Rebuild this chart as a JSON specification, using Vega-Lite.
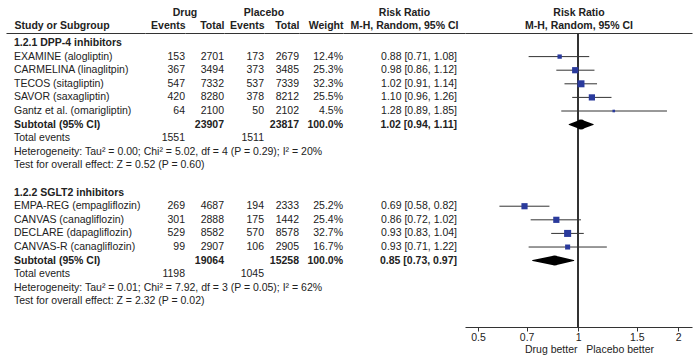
{
  "$schema": "https://vega.github.io/schema/vega-lite/v6.json",
  "padding": {"left": 6, "top": 7, "right": 8, "bottom": 0},
  "autosize": {"type": "pad"},
  "bounds": "flush",
  "spacing": 0,
  "background": "white",
  "config": {
    "view": {"stroke": null},
    "font": "Liberation Sans",
    "text": {"fontSize": 10.5, "color": "#222", "font": "Liberation Sans"},
    "axis": {
      "domainColor": "#333", "domainWidth": 1.2, "labelColor": "#222", "titleColor": "#222",
      "labelFont": "Liberation Sans", "titleFont": "Liberation Sans",
      "labelFontSize": 10.5, "titleFontSize": 10.5, "grid": false
    }
  },
  "datasets": {
    "rows": [
      {"row": 0, "kind": "group", "label": "1.2.1 DPP-4 inhibitors"},
      {"row": 1, "kind": "study", "label": "EXAMINE (alogliptin)", "de": 153, "dt": 2701, "pe": 173, "pt": 2679, "w": 0.124, "rr": 0.88, "lo": 0.71, "hi": 1.08, "ci": "0.88 [0.71, 1.08]"},
      {"row": 2, "kind": "study", "label": "CARMELINA (linaglitpin)", "de": 367, "dt": 3494, "pe": 373, "pt": 3485, "w": 0.253, "rr": 0.98, "lo": 0.86, "hi": 1.12, "ci": "0.98 [0.86, 1.12]"},
      {"row": 3, "kind": "study", "label": "TECOS (sitagliptin)", "de": 547, "dt": 7332, "pe": 537, "pt": 7339, "w": 0.323, "rr": 1.02, "lo": 0.91, "hi": 1.14, "ci": "1.02 [0.91, 1.14]"},
      {"row": 4, "kind": "study", "label": "SAVOR (saxagliptin)", "de": 420, "dt": 8280, "pe": 378, "pt": 8212, "w": 0.255, "rr": 1.10, "lo": 0.96, "hi": 1.26, "ci": "1.10 [0.96, 1.26]"},
      {"row": 5, "kind": "study", "label": "Gantz et al. (omarigliptin)", "de": 64, "dt": 2100, "pe": 50, "pt": 2102, "w": 0.045, "rr": 1.28, "lo": 0.89, "hi": 1.85, "ci": "1.28 [0.89, 1.85]"},
      {"row": 6, "kind": "subtotal", "label": "Subtotal (95% CI)", "dt": 23907, "pt": 23817, "w": 1.0, "rr": 1.02, "lo": 0.94, "hi": 1.11, "ci": "1.02 [0.94, 1.11]"},
      {"row": 7, "kind": "total", "label": "Total events", "de": 1551, "pe": 1511},
      {"row": 8, "kind": "note", "label": "Heterogeneity: Tau² = 0.00; Chi² = 5.02, df = 4 (P = 0.29); I² = 20%"},
      {"row": 9, "kind": "note", "label": "Test for overall effect: Z = 0.52 (P = 0.60)"},
      {"row": 11, "kind": "group", "label": "1.2.2 SGLT2 inhibitors"},
      {"row": 12, "kind": "study", "label": "EMPA-REG (empagliflozin)", "de": 269, "dt": 4687, "pe": 194, "pt": 2333, "w": 0.252, "rr": 0.69, "lo": 0.58, "hi": 0.82, "ci": "0.69 [0.58, 0.82]"},
      {"row": 13, "kind": "study", "label": "CANVAS (canagliflozin)", "de": 301, "dt": 2888, "pe": 175, "pt": 1442, "w": 0.254, "rr": 0.86, "lo": 0.72, "hi": 1.02, "ci": "0.86 [0.72, 1.02]"},
      {"row": 14, "kind": "study", "label": "DECLARE (dapagliflozin)", "de": 529, "dt": 8582, "pe": 570, "pt": 8578, "w": 0.327, "rr": 0.93, "lo": 0.83, "hi": 1.04, "ci": "0.93 [0.83, 1.04]"},
      {"row": 15, "kind": "study", "label": "CANVAS-R (canagliflozin)", "de": 99, "dt": 2907, "pe": 106, "pt": 2905, "w": 0.167, "rr": 0.93, "lo": 0.71, "hi": 1.22, "ci": "0.93 [0.71, 1.22]"},
      {"row": 16, "kind": "subtotal", "label": "Subtotal (95% CI)", "dt": 19064, "pt": 15258, "w": 1.0, "rr": 0.85, "lo": 0.73, "hi": 0.97, "ci": "0.85 [0.73, 0.97]"},
      {"row": 17, "kind": "total", "label": "Total events", "de": 1198, "pe": 1045},
      {"row": 18, "kind": "note", "label": "Heterogeneity: Tau² = 0.01; Chi² = 7.92, df = 3 (P = 0.05); I² = 62%"},
      {"row": 19, "kind": "note", "label": "Test for overall effect: Z = 2.32 (P = 0.02)"}
    ],
    "heads": [
      {"row": -2, "col": "de", "label": "Drug"},
      {"row": -2, "col": "pe", "label": "Placebo"}
    ]
  },
  "hconcat": [
    {
      "width": 139,
      "height": 294,
      "data": {"name": "rows"},
      "mark": {"type": "text", "align": "left", "dx": 8, "fontWeight": {"expr": "datum.kind == 'group' || datum.kind == 'subtotal' ? 'bold' : 'normal'"}},
      "encoding": {
        "x": {"datum": 0, "type": "quantitative", "scale": {"domain": [0, 1], "nice": false, "zero": false},
          "axis": {"orient": "top", "title": null, "ticks": false, "values": [0], "labelExpr": "'Study or Subgroup'", "labelAlign": "left", "labelOffset": 8, "labelFlush": false, "labelFontWeight": "bold", "labelPadding": 3, "labelAngle": 0}},
        "y": {"field": "row", "type": "quantitative", "scale": {"domain": [-0.735, 20.88], "reverse": true, "nice": false, "zero": false}, "axis": null},
        "text": {"field": "label"}
      }
    },
    {
      "width": 40,
      "height": 294,
      "layer": [
        {
          "data": {"name": "rows"},
          "transform": [{"filter": "isValid(datum.de)"}],
          "mark": {"type": "text", "align": "right", "fontWeight": {"expr": "datum.kind == 'subtotal' ? 'bold' : 'normal'"}},
          "encoding": {
            "x": {"datum": 1, "type": "quantitative", "scale": {"domain": [0, 1], "nice": false, "zero": false},
              "axis": {"orient": "top", "title": null, "ticks": false, "values": [1], "labelExpr": "'Events'", "labelAlign": "right", "labelFlush": false, "labelFontWeight": "bold", "labelPadding": 3, "labelAngle": 0}},
            "y": {"field": "row", "type": "quantitative", "scale": {"domain": [-0.735, 20.88], "reverse": true, "nice": false, "zero": false}, "axis": null},
            "text": {"field": "de", "type": "quantitative", "format": "d"}
          }
        },
        {
          "data": {"name": "heads"},
          "transform": [{"filter": "datum.col == 'de'"}],
          "mark": {"type": "text", "align": "center", "fontWeight": "bold", "dy": -3},
          "encoding": {
            "x": {"datum": 1, "type": "quantitative"},
            "y": {"field": "row", "type": "quantitative"},
            "text": {"field": "label"}
          }
        }
      ]
    },
    {
      "width": 39,
      "height": 294,
      "data": {"name": "rows"},
      "transform": [{"filter": "isValid(datum.dt)"}],
      "mark": {"type": "text", "align": "right", "fontWeight": {"expr": "datum.kind == 'subtotal' ? 'bold' : 'normal'"}},
      "encoding": {
        "x": {"datum": 1, "type": "quantitative", "scale": {"domain": [0, 1], "nice": false, "zero": false},
          "axis": {"orient": "top", "title": null, "ticks": false, "values": [1], "labelExpr": "'Total'", "labelAlign": "right", "labelFlush": false, "labelFontWeight": "bold", "labelPadding": 3, "labelAngle": 0}},
        "y": {"field": "row", "type": "quantitative", "scale": {"domain": [-0.735, 20.88], "reverse": true, "nice": false, "zero": false}, "axis": null},
        "text": {"field": "dt", "type": "quantitative", "format": "d"}
      }
    },
    {
      "width": 40,
      "height": 294,
      "layer": [
        {
          "data": {"name": "rows"},
          "transform": [{"filter": "isValid(datum.pe)"}],
          "mark": {"type": "text", "align": "right", "fontWeight": {"expr": "datum.kind == 'subtotal' ? 'bold' : 'normal'"}},
          "encoding": {
            "x": {"datum": 1, "type": "quantitative", "scale": {"domain": [0, 1], "nice": false, "zero": false},
              "axis": {"orient": "top", "title": null, "ticks": false, "values": [1], "labelExpr": "'Events'", "labelAlign": "right", "labelFlush": false, "labelFontWeight": "bold", "labelPadding": 3, "labelAngle": 0}},
            "y": {"field": "row", "type": "quantitative", "scale": {"domain": [-0.735, 20.88], "reverse": true, "nice": false, "zero": false}, "axis": null},
            "text": {"field": "pe", "type": "quantitative", "format": "d"}
          }
        },
        {
          "data": {"name": "heads"},
          "transform": [{"filter": "datum.col == 'pe'"}],
          "mark": {"type": "text", "align": "center", "fontWeight": "bold", "dy": -3},
          "encoding": {
            "x": {"datum": 1, "type": "quantitative"},
            "y": {"field": "row", "type": "quantitative"},
            "text": {"field": "label"}
          }
        }
      ]
    },
    {
      "width": 35,
      "height": 294,
      "data": {"name": "rows"},
      "transform": [{"filter": "isValid(datum.pt)"}],
      "mark": {"type": "text", "align": "right", "fontWeight": {"expr": "datum.kind == 'subtotal' ? 'bold' : 'normal'"}},
      "encoding": {
        "x": {"datum": 1, "type": "quantitative", "scale": {"domain": [0, 1], "nice": false, "zero": false},
          "axis": {"orient": "top", "title": null, "ticks": false, "values": [1], "labelExpr": "'Total'", "labelAlign": "right", "labelFlush": false, "labelFontWeight": "bold", "labelPadding": 3, "labelAngle": 0}},
        "y": {"field": "row", "type": "quantitative", "scale": {"domain": [-0.735, 20.88], "reverse": true, "nice": false, "zero": false}, "axis": null},
        "text": {"field": "pt", "type": "quantitative", "format": "d"}
      }
    },
    {
      "width": 44,
      "height": 294,
      "data": {"name": "rows"},
      "transform": [{"filter": "isValid(datum.w)"}],
      "mark": {"type": "text", "align": "right", "fontWeight": {"expr": "datum.kind == 'subtotal' ? 'bold' : 'normal'"}},
      "encoding": {
        "x": {"datum": 1, "type": "quantitative", "scale": {"domain": [0, 1], "nice": false, "zero": false},
          "axis": {"orient": "top", "title": null, "ticks": false, "values": [1], "labelExpr": "'Weight'", "labelAlign": "right", "labelFlush": false, "labelFontWeight": "bold", "labelPadding": 3, "labelAngle": 0}},
        "y": {"field": "row", "type": "quantitative", "scale": {"domain": [-0.735, 20.88], "reverse": true, "nice": false, "zero": false}, "axis": null},
        "text": {"field": "w", "type": "quantitative", "format": ".1%"}
      }
    },
    {
      "width": 122,
      "height": 294,
      "data": {"name": "rows"},
      "transform": [{"filter": "isValid(datum.ci)"}],
      "mark": {"type": "text", "align": "right", "dx": -8, "fontWeight": {"expr": "datum.kind == 'subtotal' ? 'bold' : 'normal'"}},
      "encoding": {
        "x": {"datum": 1, "type": "quantitative", "scale": {"domain": [0, 1], "nice": false, "zero": false},
          "axis": {"orient": "top", "labels": false, "ticks": false, "title": ["Risk Ratio", "M-H, Random, 95% CI"], "titleFontWeight": "bold", "titlePadding": 3, "titleLineHeight": 13}},
        "y": {"field": "row", "type": "quantitative", "scale": {"domain": [-0.735, 20.88], "reverse": true, "nice": false, "zero": false}, "axis": null},
        "text": {"field": "ci"}
      }
    },
    {
      "width": 227,
      "height": 294,
      "data": {"name": "rows"},
      "resolve": {"axis": {"x": "independent"}},
      "layer": [
        {
          "mark": {"type": "rule", "color": "#333", "strokeWidth": 1.2},
          "encoding": {
            "x": {"datum": 1, "type": "quantitative",
              "scale": {"type": "log", "domain": [0.457, 2.2], "nice": false},
              "axis": {"orient": "top", "labels": false, "ticks": false, "title": ["Risk Ratio", "M-H, Random, 95% CI"], "titleFontWeight": "bold", "titlePadding": 3, "titleLineHeight": 13}}
          }
        },
        {
          "transform": [{"filter": "datum.kind == 'study'"}],
          "mark": {"type": "rule", "color": "#333", "strokeWidth": 1},
          "encoding": {
            "x": {"field": "lo", "type": "quantitative",
              "axis": {"orient": "bottom", "values": [0.5, 0.7, 1, 1.5, 2], "format": "~g", "tickSize": 4, "tickColor": "#333", "labelPadding": 1, "labelFlush": false,
                "title": "Drug better\u00a0\u00a0\u00a0Placebo better", "titleFontWeight": "normal", "titlePadding": 2, "titleX": 124}},
            "x2": {"field": "hi"},
            "y": {"field": "row", "type": "quantitative", "scale": {"domain": [-0.735, 20.88], "reverse": true, "nice": false, "zero": false}, "axis": null}
          }
        },
        {
          "transform": [{"filter": "datum.kind == 'study'"}],
          "mark": {"type": "point", "shape": "square", "filled": true, "color": "#2a3a9c", "opacity": 1},
          "encoding": {
            "x": {"field": "rr", "type": "quantitative", "axis": null},
            "y": {"field": "row", "type": "quantitative", "axis": null},
            "size": {"field": "w", "type": "quantitative", "scale": {"domain": [0, 0.33], "range": [0, 50]}, "legend": null}
          }
        },
        {
          "transform": [{"filter": "datum.kind == 'subtotal'"}, {"fold": ["lo", "rr", "hi"], "as": ["ptkey", "xv"]}],
          "mark": {"type": "trail", "color": "#000"},
          "encoding": {
            "x": {"field": "xv", "type": "quantitative", "axis": null},
            "y": {"field": "row", "type": "quantitative", "axis": null},
            "detail": {"field": "row", "type": "nominal"},
            "size": {"condition": {"test": "datum.ptkey == 'rr'", "value": 10}, "value": 0}
          }
        }
      ]
    }
  ]
}
